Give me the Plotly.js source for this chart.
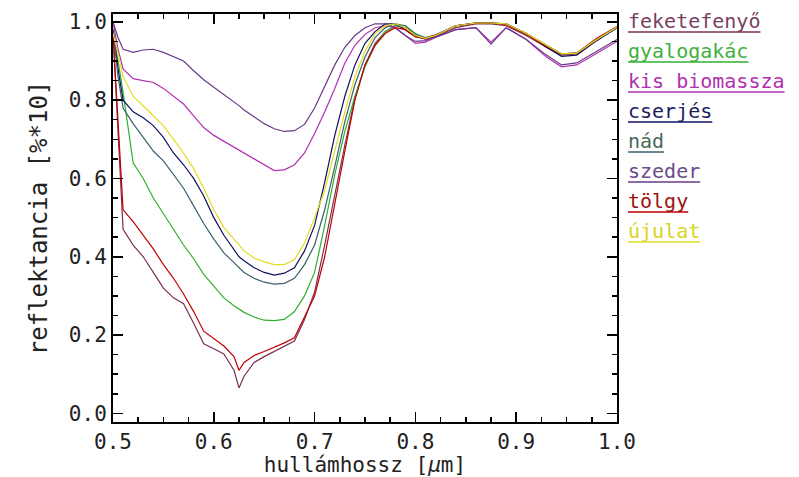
<!DOCTYPE html>
<html>
<head>
<meta charset="utf-8">
<script src="https://cdn.plot.ly/plotly-3.0.1.min.js"></script>
<style>html,body{margin:0;padding:0;background:#fff;}#chart{width:799px;height:477px;}</style>
</head>
<body>
<div id="chart"></div>
<script>
// wavelength [µm]
const wavelength = [0.500,0.505,0.510,0.520,0.530,0.540,0.550,0.560,0.570,0.580,0.590,0.600,0.610,0.620,0.625,0.630,0.640,0.650,0.660,0.670,0.680,0.690,0.700,0.710,0.720,0.730,0.740,0.750,0.760,0.770,0.780,0.790,0.800,0.810,0.820,0.840,0.860,0.875,0.890,0.910,0.930,0.945,0.960,0.980,1.000];

const feketefenyo = [.97,.70,.47,.43,.40,.36,.32,.295,.28,.23,.178,.165,.152,.11,.065,.095,.13,.145,.158,.17,.185,.24,.31,.43,.56,.685,.805,.89,.945,.975,.99,.985,.965,.955,.962,.985,.995,.995,.99,.965,.935,.915,.918,.955,.985];
const gyalogakac = [.98,.90,.82,.64,.60,.55,.51,.47,.43,.395,.355,.325,.295,.275,.267,.258,.246,.238,.237,.24,.26,.30,.36,.48,.61,.72,.81,.885,.94,.975,.99,.99,.97,.958,.965,.99,.997,.997,.995,.97,.94,.918,.92,.955,.985];
const kisBiomassza = [1.0,.93,.88,.855,.85,.845,.83,.81,.79,.76,.73,.71,.695,.68,.673,.667,.65,.635,.62,.622,.635,.665,.715,.77,.83,.895,.94,.968,.985,.99,.985,.965,.945,.948,.96,.98,.985,.948,.985,.955,.91,.885,.89,.92,.95];
const cserjes = [.98,.88,.80,.77,.755,.735,.705,.665,.635,.60,.555,.50,.455,.42,.40,.39,.372,.36,.353,.358,.372,.415,.48,.59,.71,.81,.89,.945,.975,.995,.995,.98,.962,.957,.965,.99,.997,.997,.995,.97,.935,.912,.915,.952,.985];
const nad = [.98,.86,.78,.74,.705,.67,.645,.61,.575,.53,.485,.445,.41,.385,.372,.36,.345,.335,.33,.332,.345,.38,.43,.52,.63,.745,.84,.91,.96,.985,.995,.99,.968,.96,.967,.99,.997,.997,.995,.97,.94,.918,.92,.955,.985];
const szeder = [1.0,.96,.93,.922,.928,.930,.922,.912,.90,.875,.852,.833,.815,.797,.786,.775,.757,.740,.727,.720,.722,.738,.78,.835,.89,.935,.965,.985,.995,.995,.985,.965,.95,.952,.962,.98,.985,.943,.985,.955,.915,.89,.895,.925,.955];
const tolgy = [.97,.76,.52,.49,.455,.42,.38,.345,.305,.26,.21,.19,.172,.145,.11,.13,.148,.158,.168,.18,.193,.245,.30,.40,.54,.67,.80,.89,.94,.97,.985,.98,.962,.957,.965,.99,.997,.997,.993,.968,.938,.918,.92,.958,.988];
const ujulat = [.97,.92,.86,.81,.785,.76,.735,.70,.665,.625,.575,.52,.475,.445,.43,.415,.397,.387,.38,.38,.393,.435,.50,.57,.67,.77,.86,.925,.97,.99,.995,.985,.965,.958,.965,.99,.997,.997,.995,.97,.94,.918,.92,.955,.987];

const names = ['feketefenyő','gyalogakác','kis biomassza','cserjés','nád','szeder','tölgy','újulat'];
const seriesValues = [feketefenyo, gyalogakac, kisBiomassza, cserjes, nad, szeder, tolgy, ujulat];
const lineColors = ['#7a3050','#30b030','#b030b0','#101060','#3a6070','#6a3a8a','#c00000','#e4dc20'];
const textColors = ['#7a4060','#40b040','#b030b0','#202060','#4a6a5a','#6a4a8a','#a01010','#d8d420'];

const traces = names.map((n, i) => ({
  type: 'scatter', mode: 'lines', name: n,
  x: wavelength, y: seriesValues[i],
  line: {color: lineColors[i], width: 1.2},
  hoverinfo: 'skip'
}));

// plot area in pixels
const L = 113, R = 617, T = 14, B = 422;
const W = 799, H = 477;
const px2paperX = p => (p - L) / (R - L);
const px2paperY = p => (B - p) / (B - T);
const mono = 'DejaVu Sans Mono, monospace';
const legendFont = 20, charW = 0.602 * legendFont;

const annotations = [];
const shapes = [];
names.forEach((n, i) => {
  const cy = 21 + 30 * i;
  annotations.push({
    xref: 'paper', yref: 'paper', x: px2paperX(626), y: px2paperY(cy),
    xanchor: 'left', yanchor: 'middle', showarrow: false,
    text: n, font: {family: mono, size: legendFont, color: textColors[i]}
  });
  const uy = cy + 11;
  shapes.push({
    type: 'line', xref: 'paper', yref: 'paper',
    x0: px2paperX(628), x1: px2paperX(628 + n.length * charW), y0: px2paperY(uy), y1: px2paperY(uy),
    line: {color: lineColors[i], width: 1.5}
  });
});

const axisCommon = {
  showline: true, linecolor: '#000', linewidth: 2, mirror: 'ticks',
  ticks: 'inside', ticklen: 10, tickwidth: 1.5, tickcolor: '#000',
  showgrid: false, zeroline: false,
  tickfont: {family: mono, size: 21, color: '#222'},
  tickformat: '.1f'
};

const layout = {
  width: W, height: H,
  margin: {l: L, r: W - R, t: T, b: H - B},
  paper_bgcolor: '#fff', plot_bgcolor: '#fff',
  showlegend: false,
  xaxis: Object.assign({}, axisCommon, {
    range: [0.5, 1.0], tick0: 0.5, dtick: 0.1,
    minor: {dtick: 0.025, ticks: 'inside', ticklen: 5, tickwidth: 1.5, tickcolor: '#000'},
    title: {text: 'hullámhossz [<i>μ</i>m]', font: {family: mono, size: 21, color: '#222'}, standoff: 4}
  }),
  yaxis: Object.assign({}, axisCommon, {
    range: [-0.022, 1.02], tick0: 0, dtick: 0.2,
    minor: {dtick: 0.05, ticks: 'inside', ticklen: 5, tickwidth: 1.5, tickcolor: '#000'},
    title: {text: 'reflektancia [%*10]', font: {family: mono, size: 24, color: '#222'}, standoff: 14}
  }),
  annotations: annotations,
  shapes: shapes
};

Plotly.newPlot('chart', traces, layout, {displayModeBar: false, staticPlot: true});
</script>
</body>
</html>
